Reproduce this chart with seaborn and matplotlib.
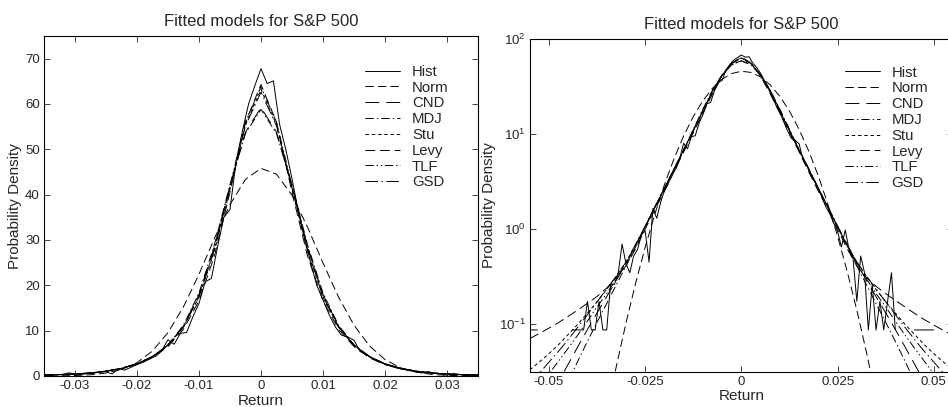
import numpy as np
import pandas as pd
import matplotlib
matplotlib.use('Agg')
import matplotlib.pyplot as plt
import seaborn as sns
from matplotlib.lines import Line2D
from matplotlib.ticker import NullLocator

sns.set_theme(style='ticks')
plt.rcParams['font.family'] = ['Liberation Sans', 'DejaVu Sans']
plt.rcParams['lines.scale_dashes'] = False
plt.rcParams['axes.unicode_minus'] = False

### data: fitted densities on a 0.0025 return grid
ret = np.round(np.arange(-0.055, 0.05501, 0.0025), 4)

norm = [7e-8, 4e-7, 2.4e-6, 1.2e-5, 5.6e-5, 2.4e-4, 9.5e-4, 0.00347, 0.01165, 0.036, 0.1023,
        0.268, 0.646, 1.435, 2.93, 5.52, 9.57, 15.27, 22.44, 30.36, 37.82, 43.37,
        45.8,
        44.53, 39.87, 32.86, 24.94, 17.43, 11.21, 6.64, 3.62, 1.82, 0.842, 0.359,
        0.1405, 0.0507, 0.01685, 0.00516, 0.00145, 3.8e-4, 9e-5, 2e-5, 4e-6, 7e-7, 1.3e-7]
cnd = [0.0068, 0.0105, 0.0163, 0.025, 0.038, 0.058, 0.088, 0.132, 0.195, 0.29, 0.43,
       0.67, 1.06, 1.7, 2.7, 4.3, 6.8, 11.0, 18.0, 28.6, 41.8, 53.8,
       59.2,
       53.8, 41.8, 28.6, 18.0, 11.0, 6.8, 4.3, 2.7, 1.7, 1.06, 0.67,
       0.43, 0.29, 0.195, 0.132, 0.088, 0.058, 0.038, 0.025, 0.0163, 0.0105, 0.0068]
mdj = [0.0032, 0.0055, 0.0092, 0.0153, 0.025, 0.041, 0.066, 0.105, 0.165, 0.26, 0.41,
       0.65, 1.05, 1.7, 2.7, 4.3, 6.9, 11.2, 18.3, 29.0, 42.2, 53.5,
       58.8,
       53.5, 42.2, 29.0, 18.3, 11.2, 6.9, 4.3, 2.7, 1.7, 1.05, 0.65,
       0.41, 0.26, 0.165, 0.105, 0.066, 0.041, 0.025, 0.0153, 0.0092, 0.0055, 0.0032]
stu = [0.033, 0.040, 0.049, 0.061, 0.078, 0.100, 0.131, 0.172, 0.232, 0.32, 0.45,
       0.68, 1.06, 1.68, 2.65, 4.2, 6.7, 10.8, 17.4, 27.5, 41.2, 55.5,
       63.2,
       55.5, 41.2, 27.5, 17.4, 10.8, 6.7, 4.2, 2.65, 1.68, 1.06, 0.68,
       0.45, 0.32, 0.232, 0.172, 0.131, 0.100, 0.078, 0.061, 0.049, 0.040, 0.033]
levy = [0.0705, 0.080, 0.091, 0.104, 0.121, 0.141, 0.166, 0.196, 0.24, 0.31, 0.41,
        0.62, 1.0, 1.6, 2.5, 4.0, 6.5, 10.3, 16.6, 26.5, 40.5, 56.0,
        64.3,
        56.0, 40.5, 26.5, 16.6, 10.3, 6.5, 4.0, 2.5, 1.6, 1.0, 0.62,
        0.41, 0.31, 0.25, 0.21, 0.178, 0.152, 0.130, 0.112, 0.098, 0.086, 0.076]
tlf = [0.0155, 0.0215, 0.030, 0.041, 0.056, 0.077, 0.108, 0.152, 0.21, 0.30, 0.44,
       0.68, 1.06, 1.68, 2.65, 4.2, 6.7, 10.8, 17.6, 28.3, 42.0, 56.0,
       63.8,
       56.0, 42.0, 28.3, 17.6, 10.8, 6.7, 4.2, 2.65, 1.68, 1.06, 0.68,
       0.44, 0.30, 0.21, 0.152, 0.108, 0.077, 0.056, 0.041, 0.030, 0.0215, 0.0155]
gsd = [0.0235, 0.0305, 0.040, 0.052, 0.069, 0.093, 0.126, 0.172, 0.235, 0.32, 0.45,
       0.69, 1.08, 1.72, 2.7, 4.3, 6.8, 10.9, 17.5, 28.0, 41.5, 55.2,
       62.6,
       55.2, 41.5, 28.0, 17.5, 10.9, 6.8, 4.3, 2.7, 1.72, 1.08, 0.69,
       0.45, 0.32, 0.235, 0.172, 0.126, 0.093, 0.069, 0.052, 0.040, 0.0305, 0.0235]

### empirical histogram, bin width 0.001 (0 = empty bin)
hist_ret = np.round(np.arange(-0.055, 0.05501, 0.001), 3)
hist = [0.087, 0.087, 0.087, 0, 0, 0, 0, 0, 0, 0, 0,
        0.087, 0.087, 0.087, 0.087, 0.174, 0.087, 0.087, 0.174, 0.087, 0.087,
        0.261, 0.261, 0.348, 0.696, 0.435, 0.348, 0.522, 0.609, 0.87, 0.957,
        0.45, 1.65, 1.3, 1.9, 2.55, 3.0, 3.9, 4.3, 5.6, 8.0,
        7.0, 9.4, 9.6, 13.0, 16.0, 20.8, 21.5, 28.5, 35.0, 36.7,
        47.5, 54.0, 60.0, 64.0, 67.8, 64.5, 65.1, 55.5, 50.0, 43.5,
        36.5, 30.5, 25.0, 20.0, 16.8, 13.5, 10.8, 9.0, 8.6, 7.9,
        5.4, 4.8, 3.8, 3.2, 2.6, 2.15, 1.7, 1.45, 1.15, 0.95,
        0.65, 0.98, 0.6, 0.5, 0.174, 0.522, 0.348, 0.087, 0.261, 0.087,
        0.174, 0.087, 0.174, 0.348, 0.087, 0, 0, 0, 0, 0.087,
        0.087, 0.087, 0.087, 0.087, 0.087, 0, 0, 0, 0, 0]

models = ['Hist', 'Norm', 'CND', 'MDJ', 'Stu', 'Levy', 'TLF', 'GSD']
dash_styles = {'Hist': '', 'Norm': (6, 3), 'CND': (10, 5), 'MDJ': (6, 2.2, 1, 2.2),
               'Stu': (2.5, 2), 'Levy': (7, 3.5), 'TLF': (6, 2, 1, 2, 1, 2),
               'GSD': (9, 2.5, 1, 2.5)}

fit = pd.DataFrame({'ret': ret, 'Norm': norm, 'CND': cnd, 'MDJ': mdj, 'Stu': stu,
                    'Levy': levy, 'TLF': tlf, 'GSD': gsd})
fit = fit.melt('ret', var_name='model', value_name='density')
hd = pd.DataFrame({'ret': hist_ret, 'model': 'Hist', 'density': hist})
df = pd.concat([hd, fit], ignore_index=True)

fig = plt.figure(figsize=(9.48, 4.07), dpi=100)
ax1 = fig.add_axes([0.0464, 0.0762, 0.4578, 0.8354])
ax2 = fig.add_axes([0.5588, 0.0867, 0.4465, 0.8174])

for ax in (ax1, ax2):
    sns.lineplot(data=df, x='ret', y='density', style='model', style_order=models,
                 dashes=dash_styles, color='black', linewidth=0.7, estimator=None,
                 sort=True, legend=False, ax=ax)

# linear panel
ax1.set_xlim(-0.035, 0.035)
ax1.set_ylim(0, 75)
ax1.set_xticks([-0.03, -0.02, -0.01, 0, 0.01, 0.02, 0.03])
ax1.set_xticklabels(['-0.03', '-0.02', '-0.01', '0', '0.01', '0.02', '0.03'])
ax1.set_yticks(range(0, 80, 10))

# log panel
ax2.set_yscale('log', nonpositive='mask')
ax2.set_xlim(-0.055, 0.055)
ax2.set_ylim(10 ** -1.5, 100)
ax2.set_xticks([-0.05, -0.025, 0, 0.025, 0.05])
ax2.set_xticklabels(['-0.05', '-0.025', '0', '0.025', '0.05'])
ax2.set_yticks([0.1, 1, 10, 100])
ax2.yaxis.set_minor_locator(NullLocator())

handles = []
for m in models:
    if dash_styles[m] == '':
        handles.append(Line2D([], [], color='black', lw=0.7, linestyle='-'))
    else:
        handles.append(Line2D([], [], color='black', lw=0.7, dashes=dash_styles[m]))

for ax, anchor in ((ax1, (0.74, 0.915)), (ax2, (0.744, 0.92))):
    ax.set_title('Fitted models for S&P 500', fontsize=12, pad=7)
    ax.set_xlabel('Return', fontsize=11, labelpad=1)
    ax.set_ylabel('Probability Density', fontsize=11, labelpad=2)
    ax.tick_params(direction='in', top=True, right=True, length=4, width=0.6,
                   labelsize=9.5, pad=3)
    for s in ax.spines.values():
        s.set_linewidth(0.8)
        s.set_color('black')
    ax.legend(handles, models, loc='upper left', bbox_to_anchor=anchor,
              frameon=False, fontsize=10.7, handlelength=2.35, handletextpad=0.8,
              labelspacing=0.12, borderpad=0, borderaxespad=0)

fig.savefig('out.png', dpi=100)
